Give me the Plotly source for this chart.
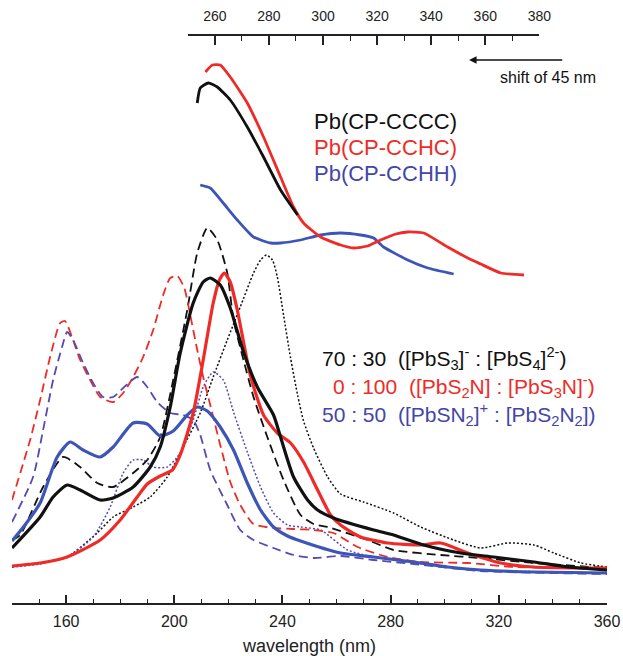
"""Calculated vs experimental UV-vis spectra of Pb(CP) complexes"""

import plotly.graph_objects as go

# calculated spectra, lower (wavelength) axis
wl_3_4_solid = [140, 150.4, 155.2, 160.4, 165.2, 172.6, 177.4, 184.8, 191.1, 194.8, 198.5, 202.2, 207.0, 210.7,
                213.3, 217.0, 220.7, 225.6, 230.7, 236.7, 239.3, 244.1, 249.3, 253.0, 258.9, 273.7, 281.1, 292.2,
                305.9, 318.1, 333.0, 345.6, 360]
ab_3_4_solid = [55, 86, 106, 118, 113, 103, 105, 116, 136, 156, 196, 250, 300, 321, 325, 318, 295, 251, 216, 188,
                166, 126, 103, 93, 85, 73, 68, 58, 50, 46, 41, 36, 33]

wl_3_4_dash = [140, 143, 151.5, 158.9, 165.2, 171.5, 177.4, 184.8, 190, 194.8, 199.6, 204.8, 208.5, 212.2, 215.9,
               219.6, 221.9, 225.6, 229.3, 234.4, 240.4, 246.7, 251.5, 256.7, 271.5, 281.1, 298.5, 313.3, 333, 360]
ab_3_4_dash = [63, 68, 116, 146, 136, 120, 116, 130, 143, 166, 223, 293, 350, 375, 363, 330, 283, 243, 206, 166,
               123, 88, 79, 76, 63, 53, 48, 45, 40, 35]

wl_3_4_dot = [140, 150.4, 160.4, 171.5, 177.4, 184.8, 191.1, 197.4, 203.3, 209.6, 214.4, 219.6, 224.4, 229.3,
              231.9, 234.1, 236.3, 238.1, 240.4, 243, 245.6, 247.8, 251.5, 256.7, 261.5, 270, 281.1, 291.1, 303.3,
              313.3, 323.3, 333, 340.4, 350.4, 360]
ab_3_4_dot = [36, 40, 46, 70, 86, 96, 106, 126, 156, 190, 226, 263, 296, 330, 343, 348, 343, 326, 288, 245, 208,
              182, 155, 126, 109, 101, 90, 76, 63, 55, 60, 58, 50, 40, 36]

wl_2n_3n_solid = [140, 150.4, 160.4, 172.6, 180, 186.3, 190, 194.8, 199.3, 202.2, 207, 210.7, 214.4, 216.7, 218.5,
                  220.7, 223.3, 228.1, 233.0, 238.1, 243, 247.8, 253, 257.8, 261.5, 268.9, 278.9, 291.1, 298.5,
                  308.5, 320.7, 333, 350.4, 360]
ab_2n_3n_solid = [37, 40, 46, 63, 83, 106, 119, 127, 133, 148, 190, 243, 300, 323, 330, 321, 293, 228, 188, 170,
                  160, 141, 113, 88, 78, 66, 60, 58, 60, 50, 40, 36, 35, 35]

wl_2n_3n_dash = [140, 146.7, 150.4, 154.1, 157.8, 159.6, 162.2, 165.2, 168.9, 172.6, 177.4, 181.1, 184.8, 188.5,
                 192.2, 195.9, 198.5, 201.1, 203.7, 205.9, 208.5, 210.7, 213.3, 217.0, 220.7, 224.4, 229.3, 236.7,
                 244.1, 251.5, 258.9, 267.8, 278.9, 291.1, 308.5, 325.6, 350.4, 360]
ab_2n_3n_dash = [103, 163, 203, 246, 280, 282, 266, 243, 223, 206, 201, 210, 226, 246, 273, 308, 325, 327, 315, 288,
                 253, 226, 198, 158, 121, 98, 79, 75, 74, 73, 70, 56, 46, 41, 40, 36, 35, 34]

wl_n2_2n2_solid = [140, 144.8, 150.4, 156.7, 161.5, 166.3, 172.6, 177.4, 184.8, 190, 194.8, 199.6, 204.8, 208.5,
                   212.2, 217, 221.9, 227, 231.9, 236.7, 241.9, 246.7, 261.5, 273.7, 288.5, 301.1, 313.3, 333, 360]
ab_n2_2n2_solid = [62, 78, 100, 146, 161, 153, 146, 156, 180, 179, 167, 172, 188, 196, 192, 176, 153, 120, 93, 76,
                   67, 62, 50, 46, 41, 36, 33, 31, 30]

wl_n2_2n2_dash = [140, 147.8, 151.5, 155.2, 158.5, 160.4, 162.6, 166.3, 170, 173.7, 177.4, 181.1, 186.3, 190, 193.7,
                  198.5, 203.3, 207, 209.6, 213.3, 219.6, 224.4, 229.3, 236.7, 244.1, 251.5, 261.5, 273.7, 288.5,
                  313.3, 360]
ab_n2_2n2_dash = [81, 126, 173, 223, 256, 271, 263, 240, 220, 206, 206, 215, 226, 216, 201, 190, 188, 183, 168, 133,
                  98, 73, 63, 55, 48, 45, 47, 43, 39, 32, 29]

wl_n2_2n2_dot = [140, 150.4, 160.4, 170, 176.3, 181.1, 184.8, 188.5, 192.2, 197.4, 202.2, 207, 210.7, 214.4, 218.1,
                 221.9, 227, 231.9, 236.7, 241.9, 246.7, 254.1, 264.1, 273.7, 288.5, 313.3, 360]
ab_n2_2n2_dot = [36, 39, 46, 66, 96, 130, 143, 143, 136, 136, 150, 183, 216, 231, 223, 191, 151, 116, 90, 78, 76,
                 73, 53, 46, 40, 33, 30]

# experimental spectra, upper axis (shifted by 45 nm)
wl_exp_cccc = [253.5, 254.6, 257.6, 260.9, 265.7, 272.0, 278.0, 284.3, 290.6]
ab_exp_cccc = [500, 515, 520, 516, 503, 476, 446, 413, 388]

wl_exp_cchc = [256.5, 259.1, 262.0, 265.7, 272.0, 278.0, 284.3, 289.1, 292.8, 299.1, 306.5, 311.3, 316.5, 321.3,
               326.9, 331.3, 337.2, 346.1, 353.5, 358.3, 365.7, 374.3]
ab_exp_cchc = [531, 538, 538, 526, 500, 466, 426, 396, 380, 366, 358, 355, 357, 363, 369, 371, 370, 356, 345, 339,
               330, 328]

wl_exp_cchh = [254.6, 258.3, 263.1, 268.3, 274.3, 280.6, 284.3, 291.7, 299.1, 306.5, 313.9, 318.7, 322.4, 331.3,
               338.7, 348.3]
ab_exp_cchh = [418, 415, 400, 383, 366, 360, 360, 363, 368, 370, 368, 365, 356, 343, 335, 329]

bottom_ticks = [160, 200, 240, 280, 320, 360]
top_ticks = [260, 280, 300, 320, 340, 360, 380]
SHIFT = 45

BLACK = "#111111"
RED = "#ef2b27"
BLUE = "#3d55b6"
BLUE2 = "#5549b3"
BLUE_TXT = "#4246a8"
FONT = "Liberation Sans, Arial, sans-serif"

fig = go.Figure()

# calculated spectra
calc = [
    (wl_3_4_dot, ab_3_4_dot, BLACK, 1.5, "2px,2px"),
    (wl_n2_2n2_dot, ab_n2_2n2_dot, BLUE2, 1.5, "2px,2px"),
    (wl_3_4_dash, ab_3_4_dash, BLACK, 1.8, "9px,5px"),
    (wl_2n_3n_dash, ab_2n_3n_dash, RED, 1.8, "9px,5px"),
    (wl_n2_2n2_dash, ab_n2_2n2_dash, BLUE2, 1.8, "9px,5px"),
    (wl_n2_2n2_solid, ab_n2_2n2_solid, BLUE, 3.2, "solid"),
    (wl_2n_3n_solid, ab_2n_3n_solid, RED, 3.2, "solid"),
    (wl_3_4_solid, ab_3_4_solid, BLACK, 3.2, "solid"),
]
for wl, ab, col, lw, dash in calc:
    fig.add_trace(go.Scatter(x=wl, y=ab, mode="lines", line=dict(color=col, width=lw, dash=dash, shape="spline",
                                                                   smoothing=0.6)))

# experimental spectra on the upper axis
for wl, ab, col in [(wl_exp_cchh, ab_exp_cchh, BLUE), (wl_exp_cchc, ab_exp_cchc, RED),
                    (wl_exp_cccc, ab_exp_cccc, BLACK)]:
    fig.add_trace(go.Scatter(x=wl, y=ab, mode="lines", xaxis="x2", yaxis="y",
                             line=dict(color=col, width=2.8, shape="spline", smoothing=0.5)))

x0, x1 = 140, 360
top_lo, top_hi = 250, 380

fig.update_layout(
    width=623,
    height=656,
    margin=dict(l=12, r=16, t=35, b=53),
    paper_bgcolor="white",
    plot_bgcolor="rgba(0,0,0,0)",
    showlegend=False,
    font=dict(family=FONT, color="#222222"),
    xaxis=dict(
        range=[x0, x1],
        automargin=False,
        showline=True,
        linecolor="#222222",
        linewidth=1.5,
        ticks="inside",
        ticklen=8,
        tickwidth=1.5,
        tickcolor="#222222",
        tickvals=bottom_ticks,
        tickfont=dict(size=16),
        ticklabelstandoff=3,
        minor=dict(ticks="inside", dtick=10, tick0=140, ticklen=4, tickwidth=1.3, tickcolor="#222222"),
        showgrid=False,
        zeroline=False,
        title=dict(text="wavelength (nm)", font=dict(size=18), standoff=10),
    ),
    xaxis2=dict(
        domain=[(top_lo - SHIFT - x0) / (x1 - x0), (top_hi - SHIFT - x0) / (x1 - x0)],
        range=[top_lo, top_hi],
        automargin=False,
        anchor="free",
        position=1,
        side="top",
        showline=True,
        linecolor="#222222",
        linewidth=1.5,
        ticks="inside",
        ticklen=9,
        tickwidth=1.5,
        tickcolor="#222222",
        tickvals=top_ticks,
        tickfont=dict(size=14),
        ticklabelstandoff=8,
        minor=dict(ticks="inside", dtick=10, tick0=250, ticklen=5, tickwidth=1.3, tickcolor="#222222"),
        showgrid=False,
        zeroline=False,
    ),
    yaxis=dict(range=[0, 568], visible=False, showgrid=False, zeroline=False, automargin=False),
)

# legend-like labels
labels = [
    ("Pb(CP-CCCC)", BLACK, 251.1, 482, 22),
    ("Pb(CP-CCHC)", RED, 251.1, 456, 22),
    ("Pb(CP-CCHH)", BLUE_TXT, 251.1, 430, 22),
    ("70 : 30  ([PbS<sub>3</sub>]<sup>-</sup> : [PbS<sub>4</sub>]<sup>2-</sup>)", BLACK, 253.7, 245, 21),
    ("0 : 100  ([PbS<sub>2</sub>N] : [PbS<sub>3</sub>N]<sup>-</sup>)", RED, 258.0, 217, 21),
    ("50 : 50  ([PbSN<sub>2</sub>]<sup>+</sup> : [PbS<sub>2</sub>N<sub>2</sub>])", BLUE_TXT, 253.7, 189, 21),
]
for txt, col, x, y, sz in labels:
    fig.add_annotation(x=x, y=y, text=txt, showarrow=False, xanchor="left", yanchor="middle",
                       font=dict(color=col, size=sz, family=FONT))

# shift arrow
fig.add_annotation(x=309, y=543, ax=344, ay=543, axref="x", ayref="y", text="", showarrow=True,
                   arrowhead=2, arrowsize=1, arrowwidth=1.5, arrowcolor=BLACK)
fig.add_annotation(x=319.6, y=526, text="shift of " + str(SHIFT) + " nm", showarrow=False, xanchor="left",
                   yanchor="middle", font=dict(color=BLACK, size=16, family=FONT))

fig.write_html("out.html", config={"displayModeBar": False},
               post_script="document.body.style.margin='0';")
